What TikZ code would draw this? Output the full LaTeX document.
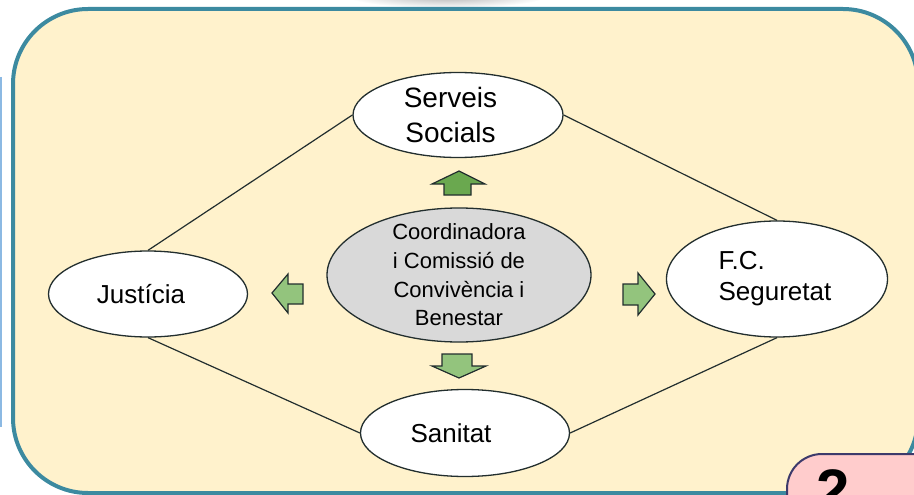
\documentclass[tikz,border=0pt]{standalone}
\usepackage{fontspec}
\setmainfont{Liberation Sans}
\usetikzlibrary{shapes.geometric}

\definecolor{boxfill}{HTML}{FFF2CC}
\definecolor{frame}{HTML}{3C8AA0}
\definecolor{sideblue}{HTML}{6FA8DC}
\definecolor{pinkfill}{HTML}{FFCCCC}
\definecolor{navy}{HTML}{3D3A6B}
\definecolor{centgray}{HTML}{D9D9D9}
\definecolor{edge}{HTML}{222E2E}
\definecolor{darkgreen}{HTML}{6AA84F}
\definecolor{lightgreen}{HTML}{93C47D}

\tikzset{
  bubble/.style={ellipse, draw=edge, line width=1.3pt, fill=white, inner sep=0pt},
  bigtext/.style={font=\fontsize{26}{34}\selectfont, inner sep=0pt},
  link/.style={draw=edge, line width=1.2pt},
  fat/.style={draw=edge, line width=1.2pt, line join=miter},
}

\begin{document}
\begin{tikzpicture}[x=1pt,y=-1pt]
    \useasboundingbox (0,0) rectangle (914,495);
    \clip (0,0) rectangle (914,495);

    % shadow of the box above and edge of the box on the left
    \shade[inner color=black!30, outer color=white] (447,-4) ellipse (100 and 12);
    \draw[line width=2pt, sideblue!80] (1,77) -- (1,427);

    % main panel
    \draw[line width=4pt, draw=frame, fill=boxfill, rounded corners=75pt] (13,9) rectangle (918,493);

    % ellipses
    \node[bubble, minimum width=210pt, minimum height=85pt] (serveis) at (458,115) {};
    \node[bubble, minimum width=199pt, minimum height=86pt] (justicia) at (148,294) {};
    \node[bubble, fill=centgray, minimum width=264pt, minimum height=134pt] (coord) at (459,275) {};
    \node[bubble, minimum width=221pt, minimum height=116pt] (fcs) at (777,279) {};
    \node[bubble, minimum width=209pt, minimum height=87pt] (sanitat) at (465,433) {};

    \node[bigtext, font=\fontsize{28}{35}\selectfont, align=center] (serveis-t) at ([xshift=-7.5pt]serveis.center) {Serveis\\Socials};
    \node[bigtext] (justicia-t) at ([xshift=-7pt]justicia.center) {Justícia};
    \node[font=\fontsize{22}{28.7}\selectfont, align=center, inner sep=0pt] (coord-t) at (coord.center) {Coordinadora\\i Comissió de\\Convivència i\\Benestar};
    \node[bigtext, font=\fontsize{26}{31}\selectfont, align=left] (fcs-t) at ([xshift=-2pt]fcs.center) {F.C.\\Seguretat};
    \node[bigtext] (sanitat-t) at ([xshift=-14pt]sanitat.center) {Sanitat};

    % connectors
    \draw[link] (justicia.north) -- (serveis.west);
    \draw[link] (serveis.east) -- (fcs.north);
    \draw[link] (justicia.south) -- (sanitat.west);
    \draw[link] (sanitat.east) -- (fcs.south);

    % fat arrows
    \draw[fat, fill=darkgreen] (459,171) -- (485,184) -- (471,184) -- (471,195) -- (444,195) -- (444,184) -- (432,184) -- cycle;
    \draw[fat, fill=lightgreen] (459,378) -- (486,366) -- (472,366) -- (472,354) -- (442,354) -- (442,366) -- (432,366) -- cycle;
    \draw[fat, fill=lightgreen] (272,293) -- (288,274) -- (288,284) -- (303,284) -- (303,304) -- (288,304) -- (288,313) -- cycle;
    \draw[fat, fill=lightgreen] (655,294) -- (638,273) -- (638,284) -- (623,284) -- (623,305) -- (638,305) -- (638,315) -- cycle;

    % page number box
    \draw[line width=2pt, draw=navy, fill=pinkfill, rounded corners=35pt] (787,454) rectangle (960,560);
    \node[font=\bfseries\fontsize{60}{60}\selectfont, anchor=base west, inner sep=0pt] (num) at (816,511) {2};
\end{tikzpicture}
\end{document}
